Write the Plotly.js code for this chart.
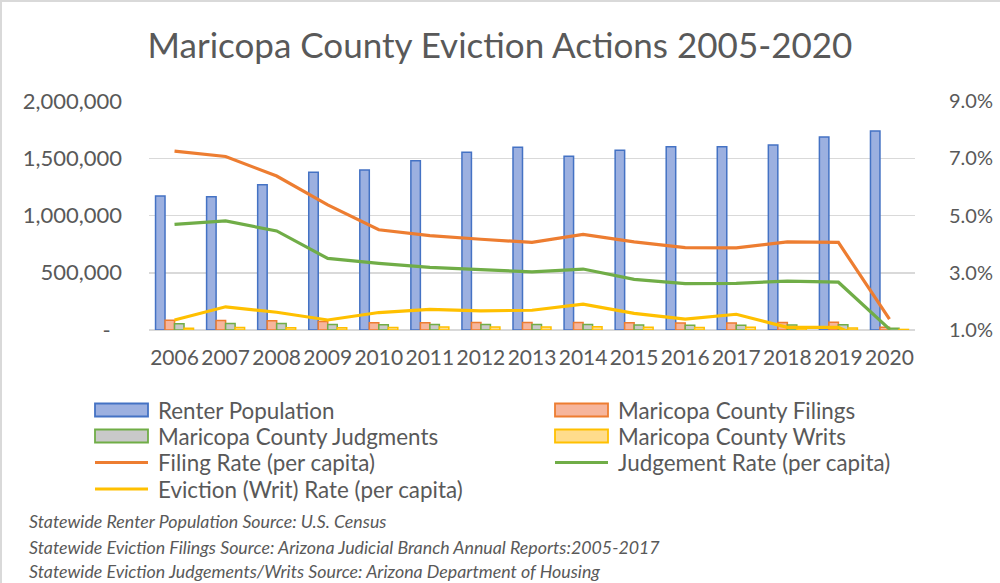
<!DOCTYPE html>
<html>
<head>
<meta charset="utf-8">
<script src="https://cdn.plot.ly/plotly-3.0.1.min.js"></script>
<style>
  html, body { margin: 0; padding: 0; background: #fff; }
  #chart { width: 1000px; height: 583px; }
</style>
</head>
<body>
<div id="chart"></div>
<script>
// ---------------- DATA ----------------
const years = ['2006','2007','2008','2009','2010','2011','2012','2013','2014','2015','2016','2017','2018','2019','2020'];
const renterPopulation = [1170000,1164000,1269000,1377000,1397000,1479000,1552000,1595000,1517000,1569000,1601000,1601000,1616000,1686000,1738000];
const countyFilings   = [85000,82000,81000,74000,63000,64000,65000,65000,66000,64000,62000,62000,66000,68000,24000];
const countyJudgments = [55000,56000,57000,48000,46500,47000,48000,48000,47500,43500,42000,42000,44000,45000,15000];
const countyWrits     = [16000,21000,20500,18600,22500,25400,26000,27000,28800,24800,22000,24800,17600,18400,5000];
const filingRate    = [7.25,7.06,6.38,5.37,4.50,4.30,4.17,4.06,4.34,4.08,3.88,3.87,4.08,4.06,1.38];
const judgmentRate  = [4.69,4.81,4.46,3.50,3.33,3.19,3.11,3.03,3.13,2.77,2.62,2.63,2.71,2.67,1.03];
const writRate      = [1.35,1.81,1.62,1.35,1.61,1.72,1.67,1.69,1.90,1.58,1.38,1.55,1.09,1.09,0.30];
const leftTickVals  = [0,500000,1000000,1500000,2000000];
const leftTickText  = ['-\u00a0\u00a0','500,000','1,000,000','1,500,000','2,000,000'];
const sourceNotes = [
  'Statewide Renter Population Source: U.S. Census',
  'Statewide Eviction Filings Source: Arizona Judicial Branch Annual Reports:2005-2017',
  'Statewide Eviction Judgements/Writs Source: Arizona Department of Housing'
];

// ---------------- STYLE ----------------
const FONT = 'Lato, "Open Sans", sans-serif';
const GRAY = '#595959';
const W = 1000, H = 583;
const M = {l: 149, r: 85, t: 101, b: 253};
const PW = W - M.l - M.r, PH = H - M.t - M.b;
const px = x => (x - M.l) / PW;          // pixel -> paper x
const py = y => (H - M.b - y) / PH;      // pixel -> paper y

const barDefs = [
  {name: 'Renter Population',          y: renterPopulation, fill: '#9cb0e0', line: '#4472c4'},
  {name: 'Maricopa County Filings',    y: countyFilings,    fill: '#f6b59c', line: '#ed7d31'},
  {name: 'Maricopa County Judgments',  y: countyJudgments,  fill: '#c9c9c9', line: '#70ad47'},
  {name: 'Maricopa County Writs',      y: countyWrits,      fill: '#ffdc8c', line: '#ffc000'}
];
const lineDefs = [
  {name: 'Filing Rate (per capita)',           y: filingRate,   color: '#ed7d31'},
  {name: 'Judgement Rate (per capita)',        y: judgmentRate, color: '#70ad47'},
  {name: 'Eviction (Writ) Rate (per capita)',  y: writRate,     color: '#ffc000'}
];

const traces = [];
barDefs.forEach(d => traces.push({
  type: 'bar', name: d.name, x: years, y: d.y, yaxis: 'y',
  marker: {color: d.fill, line: {color: d.line, width: 1.5}},
  showlegend: false, hoverinfo: 'x+y+name'
}));
lineDefs.forEach(d => traces.push({
  type: 'scatter', mode: 'lines', name: d.name, x: years, y: d.y, yaxis: 'y2',
  line: {color: d.color, width: 3.2},
  showlegend: false
}));

// ---------------- LEGEND (drawn from the trace list) ----------------
const shapes = [];
const annotations = [];
const legendItems = [
  ...barDefs.map(d => ({kind: 'bar', name: d.name, fill: d.fill, line: d.line})),
  ...lineDefs.map(d => ({kind: 'line', name: d.name, line: d.color}))
];
const colSym = [95, 555], colText = [156, 616];
const rowY = [410, 436, 462.5, 489];
legendItems.forEach((it, i) => {
  const c = i % 2, r = Math.floor(i / 2);
  const yc = rowY[r];
  if (it.kind === 'bar') {
    shapes.push({type: 'rect', xref: 'paper', yref: 'paper',
      x0: px(colSym[c]), x1: px(colSym[c] + 53), y0: py(yc - 6.5), y1: py(yc + 6.5),
      fillcolor: it.fill, line: {color: it.line, width: 1.8}});
  } else {
    shapes.push({type: 'line', xref: 'paper', yref: 'paper',
      x0: px(colSym[c]), x1: px(colSym[c] + 53), y0: py(yc), y1: py(yc),
      line: {color: it.line, width: 3}});
  }
  annotations.push({xref: 'paper', yref: 'paper', x: px(colText[c]), y: py(yc),
    xanchor: 'left', yanchor: 'middle', showarrow: false, text: it.name,
    font: {family: FONT, size: 22.4, color: GRAY}});
});

// source notes
const noteY = [521, 546.5, 571];
sourceNotes.forEach((t, i) => annotations.push({
  xref: 'paper', yref: 'paper', x: px(27), y: py(noteY[i]), xanchor: 'left', yanchor: 'middle',
  showarrow: false, text: '<i>' + t + '</i>', font: {family: FONT, size: 17.8, color: GRAY}
}));

// chart frame (top and left edges visible)
shapes.push({type: 'line', xref: 'paper', yref: 'paper', x0: px(1), x1: px(1), y0: py(0), y1: py(H),
  line: {color: '#d9d9d9', width: 2}});
shapes.push({type: 'line', xref: 'paper', yref: 'paper', x0: px(0), x1: px(W), y0: py(1), y1: py(1),
  line: {color: '#d9d9d9', width: 2}});

const layout = {
  width: W, height: H,
  margin: M,
  paper_bgcolor: '#ffffff', plot_bgcolor: '#ffffff',
  font: {family: FONT, color: GRAY},
  title: {text: 'Maricopa County Eviction Actions 2005-2020',
    font: {family: FONT, size: 35, color: GRAY},
    x: 0.5, xref: 'container', xanchor: 'center', y: 1 - 46 / H, yanchor: 'middle'},
  barmode: 'group', bargap: 0.256, bargroupgap: 0,
  showlegend: false,
  xaxis: {type: 'category', showgrid: false, zeroline: false, showline: false,
    ticks: '', tickfont: {family: FONT, size: 21, color: GRAY}, ticklabelstandoff: 13},
  yaxis: {range: [0, 2000000], tickmode: 'array', tickvals: leftTickVals, ticktext: leftTickText,
    showgrid: true, gridcolor: '#d9d9d9', gridwidth: 1.5, zeroline: true, zerolinecolor: '#d9d9d9', zerolinewidth: 2,
    showline: false, ticks: '', tickfont: {family: FONT, size: 22, color: GRAY}, ticklabelstandoff: 26},
  yaxis2: {range: [1, 9], tickmode: 'linear', tick0: 1, dtick: 2, tickformat: '.1f', ticksuffix: '%',
    overlaying: 'y', side: 'right', showgrid: false, zeroline: false, showline: false, ticks: '',
    tickfont: {family: FONT, size: 20, color: GRAY}, ticklabelstandoff: 33},
  shapes: shapes,
  annotations: annotations
};

Plotly.newPlot('chart', traces, layout, {displayModeBar: false, staticPlot: true});
</script>
</body>
</html>
